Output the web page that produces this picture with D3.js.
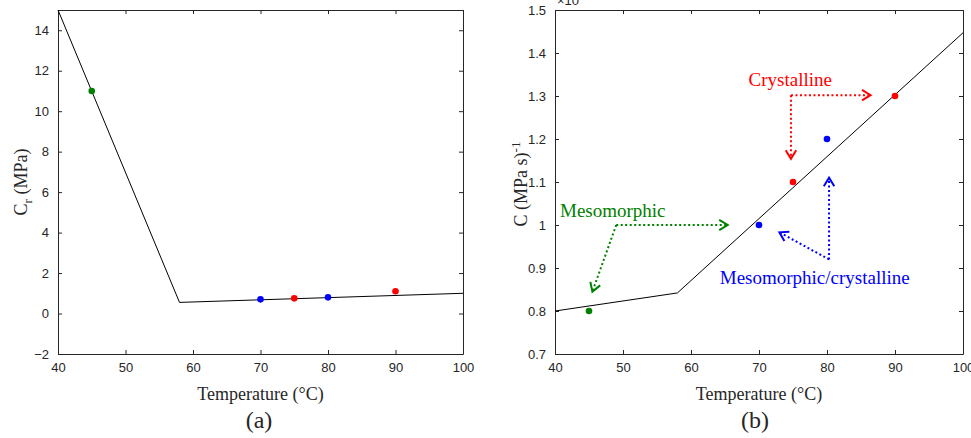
<!DOCTYPE html>
<html>
<head>
<meta charset="utf-8">
<script src="https://cdn.jsdelivr.net/npm/d3@7"></script>
<style>
  body { margin:0; background:#fff; }
  .tick text { font-family: Arial, "Liberation Sans", sans-serif; font-size:13px; fill:#262626; }
  .ttl { font-family: "Times New Roman", "Liberation Serif", serif; fill:#262626; }
</style>
</head>
<body>
<div id="chart"></div>
<script>
/* data */
var temps = [45, 70, 75, 80, 90];
var colors = ["#008000", "#0000ff", "#ff0000", "#0000ff", "#ff0000"];
var crValues = [11, 0.7, 0.75, 0.8, 1.1];
var cValues = [0.8, 1.0, 1.1, 1.2, 1.3];
// fitted piecewise lines
var crFitT = [40, 58, 100];
var crFit = [15, 0.55, 1.0];
var cFitT = [40, 58, 100];
var cFit = [0.8, 0.842, 1.447];
var xTicks = [40, 50, 60, 70, 80, 90, 100];
var crTicks = [-2, 0, 2, 4, 6, 8, 10, 12, 14];
var cTicks = [0.7, 0.8, 0.9, 1, 1.1, 1.2, 1.3, 1.4, 1.5];

var svg = d3.select("#chart").append("svg")
  .attr("width", 971).attr("height", 438);

var height = 344;

function panel(left, width, yDomain, yTicks, vals, fitT, fit) {
  var g = svg.append("g").attr("transform", "translate(" + left + ",10)");
  var x = d3.scaleLinear().domain([40, 100]).range([0, width]);
  var y = d3.scaleLinear().domain(yDomain).range([height, 0]);

  // axes (box with inward ticks on all sides)
  g.append("g").attr("transform", "translate(0," + height + ")")
    .call(d3.axisBottom(x).tickValues(xTicks).tickSizeInner(-4).tickSizeOuter(0).tickPadding(9));
  g.append("g")
    .call(d3.axisTop(x).tickValues(xTicks).tickSizeInner(-4).tickSizeOuter(0).tickFormat(""));
  g.append("g").attr("class", "yleft")
    .call(d3.axisLeft(y).tickValues(yTicks).tickSizeInner(-4).tickSizeOuter(0).tickPadding(9));
  g.append("g").attr("transform", "translate(" + width + ",0)")
    .call(d3.axisRight(y).tickValues(yTicks).tickSizeInner(-4).tickSizeOuter(0).tickFormat(""));
  g.selectAll(".domain, .tick line").attr("stroke", "#262626");

  var line = d3.line().x(function(d, i) { return x(fitT[i]); }).y(function(d) { return y(d); });
  g.append("path").datum(fit).attr("d", line)
    .attr("fill", "none").attr("stroke", "#000").attr("stroke-width", 1);

  g.selectAll("circle").data(vals).enter().append("circle")
    .attr("cx", function(d, i) { return x(temps[i]); })
    .attr("cy", function(d) { return y(d); })
    .attr("r", 3.3)
    .attr("fill", function(d, i) { return colors[i]; });

  g.append("text").attr("class", "ttl")
    .attr("x", width / 2).attr("y", height + 46)
    .attr("text-anchor", "middle").attr("font-size", 18)
    .text("Temperature (\u00B0C)");
  return { g: g, x: x, y: y };
}

var a = panel(58, 405, [-2, 15], crTicks, crValues, crFitT, crFit);
var b = panel(555, 408, [0.7, 1.5], cTicks, cValues, cFitT, cFit);

b.g.selectAll(".yleft .tick text").filter(function(d) { return d === 1; }).text("1");

// y labels
var la = svg.append("text").attr("class", "ttl").attr("font-size", 18)
  .attr("text-anchor", "middle")
  .attr("transform", "translate(27,182) rotate(-90)");
la.append("tspan").text("C");
la.append("tspan").attr("font-size", 13).attr("dy", 5).text("r");
la.append("tspan").attr("dy", -5).text(" (MPa)");

var lb = svg.append("text").attr("class", "ttl").attr("font-size", 18)
  .attr("text-anchor", "middle")
  .attr("transform", "translate(527,184) rotate(-90)");
lb.append("tspan").text("C (MPa s)");
lb.append("tspan").attr("font-size", 13).attr("dy", -7).text("-1");

// exponent label (clipped at top)
var ex = svg.append("text").attr("x", 557).attr("y", 5)
  .attr("font-family", "Arial, 'Liberation Sans', sans-serif").attr("font-size", 13).attr("fill", "#262626");
ex.append("tspan").text("\u00D710");
ex.append("tspan").attr("font-size", 10).attr("dy", -5).text("-3");

// captions
svg.append("text").attr("class", "ttl").attr("x", 259).attr("y", 428)
  .attr("text-anchor", "middle").attr("font-size", 24).text("(a)");
svg.append("text").attr("class", "ttl").attr("x", 755).attr("y", 428)
  .attr("text-anchor", "middle").attr("font-size", 24).text("(b)");

// annotations on panel (b): [x1,y1,x2,y2] in data units
var annText = ["Crystalline", "Mesomorphic", "Mesomorphic/crystalline"];
var annColor = ["#ff0000", "#008000", "#0000ff"];
var annPos = [[74.6, 1.323], [48.5, 1.019], [78.2, 0.863]];
var annArrows = [
  [[74.7, 1.302, 86.4, 1.302], [74.7, 1.302, 74.7, 1.154]],
  [[49.0, 1.0, 65.4, 1.0], [49.0, 1.0, 45.5, 0.845]],
  [[80.3, 0.92, 80.3, 1.11], [80.3, 0.92, 73.0, 0.983]]
];

function arrow(g, s, color) {
  var x1 = b.x(s[0]), y1 = b.y(s[1]), x2 = b.x(s[2]), y2 = b.y(s[3]);
  g.append("line").attr("x1", x1).attr("y1", y1).attr("x2", x2).attr("y2", y2)
    .attr("stroke", color).attr("stroke-width", 2).attr("stroke-dasharray", "2,2.5");
  var ang = Math.atan2(y2 - y1, x2 - x1), L = 10, w = 0.55;
  var p = [
    [x2 - L * Math.cos(ang - w), y2 - L * Math.sin(ang - w)],
    [x2, y2],
    [x2 - L * Math.cos(ang + w), y2 - L * Math.sin(ang + w)]
  ];
  g.append("path").attr("d", d3.line()(p))
    .attr("fill", "none").attr("stroke", color).attr("stroke-width", 2);
}

annText.forEach(function(t, i) {
  b.g.append("text").attr("class", "ttl")
    .attr("x", b.x(annPos[i][0])).attr("y", b.y(annPos[i][1]))
    .attr("text-anchor", "middle").attr("font-size", 19)
    .style("fill", annColor[i]).text(t);
  annArrows[i].forEach(function(s) { arrow(b.g, s, annColor[i]); });
});
</script>
</body>
</html>
